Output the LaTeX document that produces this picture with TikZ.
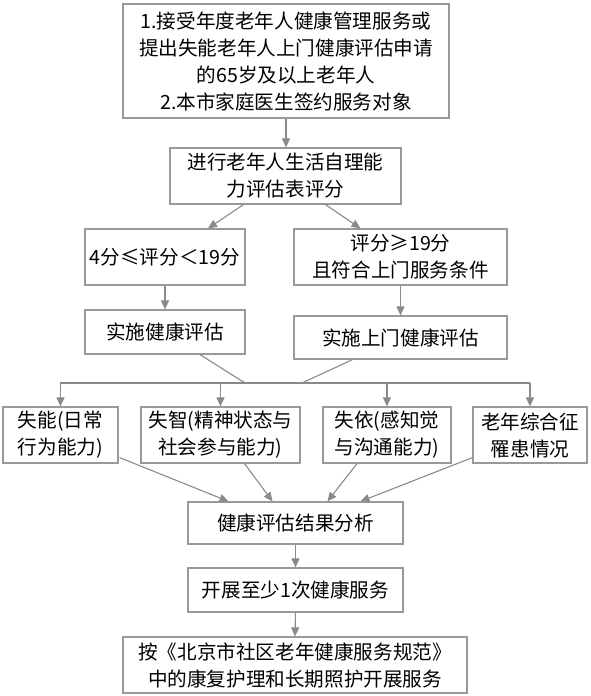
\documentclass[tikz,border=0pt]{standalone}
\usepackage{fontspec}
\setmainfont{Noto Sans CJK SC}
\usetikzlibrary{arrows.meta,calc}
\definecolor{linegray}{HTML}{8A8A8A}
\definecolor{boxgray}{HTML}{999999}
\tikzset{
  box/.style={draw=boxgray, line width=1.2pt, align=center, inner sep=0pt,
    font=\fontsize{19.6}{27}\selectfont, text=black},
  conn/.style={draw=linegray, line width=1.1pt},
  arr/.style={conn, -{Triangle[length=9pt,width=8pt]}}
}
\begin{document}
\begin{tikzpicture}[x=1pt,y=-1pt]
\useasboundingbox (0,0) rectangle (590,696);
\node[box, minimum width=326pt, minimum height=114pt] (b1) at (286,61)
  {1.接受年度老年人健康管理服务或\\提出失能老年人上门健康评估申请\\的65岁及以上老年人\\2.本市家庭医生签约服务对象};
\node[box, minimum width=231pt, minimum height=56pt] (b2) at (285.5,176)
  {进行老年人生活自理能\\力评估表评分};
\node[box, minimum width=160pt, minimum height=56pt] (b3a) at (165,257)
  {4分≤评分＜19分};
\node[box, minimum width=213pt, minimum height=56pt] (b3b) at (400.5,257)
  {评分≥19分\\且符合上门服务条件};
\node[box, minimum width=160pt, minimum height=44pt] (b4a) at (165,332)
  {实施健康评估};
\node[box, minimum width=213pt, minimum height=43pt] (b4b) at (400.5,337.5)
  {实施上门健康评估};
\node[box, minimum width=115pt, minimum height=56pt] (b5a) at (60.5,435)
  {失能(日常\\行为能力)};
\node[box, minimum width=159pt, minimum height=56pt] (b5b) at (220.5,435)
  {失智(精神状态与\\社会参与能力)};
\node[box, minimum width=128pt, minimum height=56pt] (b5c) at (387,435)
  {失依(感知觉\\与沟通能力)};
\node[box, minimum width=114pt, minimum height=56pt] (b5d) at (530,435)
  {老年综合征\\罹患情况};
\node[box, minimum width=215pt, minimum height=42pt] (b6) at (295.5,523)
  {健康评估结果分析};
\node[box, minimum width=215pt, minimum height=44pt] (b7) at (295.5,590)
  {开展至少1次健康服务};
\node[box, minimum width=344pt, minimum height=56pt] (b8) at (295,665)
  {按《北京市社区老年健康服务规范》\\中的康复护理和长期照护开展服务};
% connectors
\draw[arr] (b1.south) -- (b1.south |- b2.north);
\draw[arr] ($(b2.south)+(-42,0)$) -- ($(b3a.north)+(43,0)$);
\draw[arr] ($(b2.south)+(40,0)$) -- ($(b3b.north)+(-40,0)$);
\draw[arr] (b3a.south) -- (b4a.north);
\draw[arr] (b3b.south) -- (b4b.north);
\coordinate (hl) at (60,383);
\coordinate (hr) at (530,383);
\coordinate (j1) at (245,383);
\coordinate (j2) at (302,383);
\draw[conn] ($(b4a.south)+(35,0)$) -- (j1);
\draw[conn] ($(b4b.south)+(-48,0)$) -- (j2);
\draw[conn] (hl) -- (hr);
\draw[arr] (b5a.north |- hl) -- (b5a.north);
\draw[arr] (b5b.north |- hl) -- (b5b.north);
\draw[arr] (b5c.north |- hl) -- (b5c.north);
\draw[arr] (b5d.north |- hl) -- (b5d.north);
\draw[arr] ($(b5a.south east)+(1,-6)$) -- ($(b6.north)+(-67,0)$);
\draw[arr] ($(b5b.south)+(24,0)$) -- ($(b6.north)+(-23,0)$);
\draw[arr] ($(b5c.south)+(-30,0)$) -- ($(b6.north)+(32,0)$);
\draw[arr] ($(b5d.south west)+(0,-6)$) -- ($(b6.north)+(65,0)$);
\draw[arr] (b6.south) -- (b7.north);
\draw[arr] (b7.south) -- (b8.north);
\end{tikzpicture}
\end{document}
